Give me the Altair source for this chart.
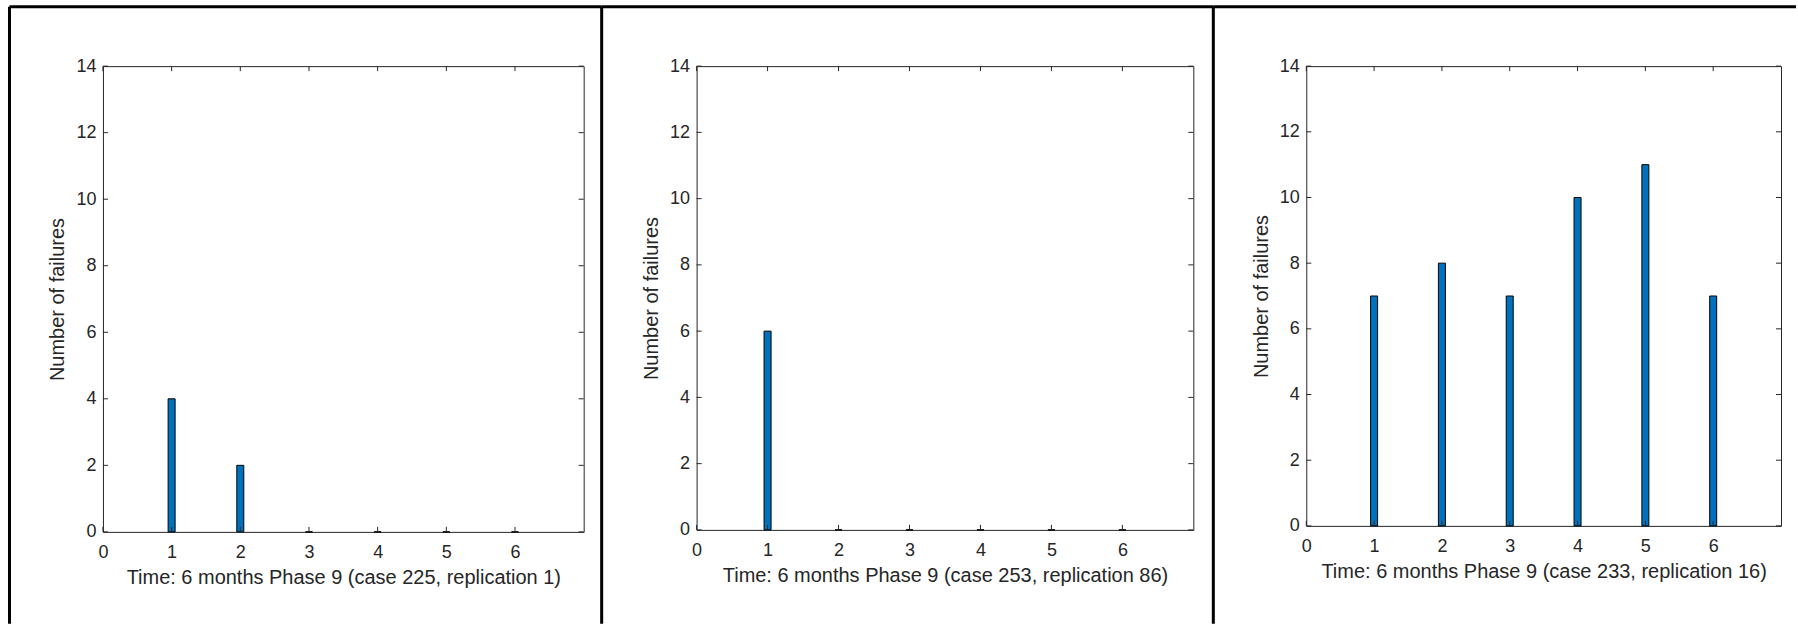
import altair as alt
import pandas as pd

# Failures per month for three simulated cases
months = [1, 2, 3, 4, 5, 6]
failures_225 = [4, 2, 0, 0, 0, 0]
failures_253 = [6, 0, 0, 0, 0, 0]
failures_233 = [7, 8, 7, 10, 11, 7]

x_titles = [
    "Time: 6 months Phase 9 (case 225, replication 1)",
    "Time: 6 months Phase 9 (case 253, replication 86)",
    "Time: 6 months Phase 9 (case 233, replication 16)",
]
y_title = "Number of failures"
x_ticks = [0, 1, 2, 3, 4, 5, 6]
y_ticks = [0, 2, 4, 6, 8, 10, 12, 14]

INK = "#262626"
BAR_BLUE = "#0072BD"
FONT = "Liberation Sans"
TICK_LEN = 5
FRAME_W = 3


def panel(counts, x_title, w, h, frame_left, frame_right):
    bars = pd.DataFrame({"month": months, "failures": counts})
    x_enc = alt.X(
        "month:Q",
        scale=alt.Scale(domain=[0, 7], nice=False, zero=False, padding=0),
        axis=alt.Axis(
            values=x_ticks, format="d", title=x_title, grid=False, domain=False,
            ticks=False, tickSize=0, labelPadding=12, labelFlush=False,
            labelOverlap=False, labelFontSize=18, labelFont=FONT,
            labelColor=INK, titleFontSize=20, titleFont=FONT,
            titleColor=INK, titleFontWeight="normal", titleX=w / 2,
            titleY=46, titleAlign="center", titleBaseline="middle",
        ),
    )
    y_axis = alt.Axis(
        values=y_ticks, format="d", title=y_title, grid=False, domain=False,
        ticks=False, tickSize=0, labelPadding=7, labelFlush=False,
        labelOverlap=False, labelFontSize=18, labelFont=FONT, labelColor=INK,
        titleFontSize=20, titleFont=FONT, titleColor=INK,
        titleFontWeight="normal", titleX=-45, titleY=h / 2, titleAngle=270,
        titleAlign="center", titleBaseline="middle",
    )
    y_scale = alt.Scale(domain=[0, 14], nice=False, padding=0)

    bar = alt.Chart(bars).mark_bar(
        size=7, color=BAR_BLUE, stroke="black", strokeWidth=1, orient="vertical"
    ).encode(
        x=x_enc,
        y=alt.Y("failures:Q", scale=y_scale, axis=y_axis, stack=None),
    )

    xt = pd.DataFrame({"month": x_ticks})
    yt = pd.DataFrame({"failures": y_ticks})
    y_enc = alt.Y("failures:Q", scale=y_scale, axis=y_axis)

    tick_bottom = alt.Chart(xt).mark_rule(color=INK, strokeWidth=1).encode(
        x=x_enc, y=alt.value(h), y2=alt.value(h - TICK_LEN)
    )
    tick_top = alt.Chart(xt).mark_rule(color=INK, strokeWidth=1).encode(
        x=x_enc, y=alt.value(0), y2=alt.value(TICK_LEN)
    )
    tick_left = alt.Chart(yt).mark_rule(color=INK, strokeWidth=1).encode(
        y=y_enc, x=alt.value(0), x2=alt.value(TICK_LEN)
    )
    tick_right = alt.Chart(yt).mark_rule(color=INK, strokeWidth=1).encode(
        y=y_enc, x=alt.value(w), x2=alt.value(w - TICK_LEN)
    )

    # window frame around each figure panel
    one = alt.Data(values=[{}])
    frame_v = alt.Chart(one).mark_rule(color="black", strokeWidth=FRAME_W).encode(
        x=alt.value(frame_left), y=alt.value(-59.5), y2=alt.value(558)
    )
    frame_h = alt.Chart(one).mark_rule(color="black", strokeWidth=FRAME_W).encode(
        x=alt.value(frame_left), x2=alt.value(frame_right), y=alt.value(-59.5)
    )

    return alt.layer(
        bar, tick_bottom, tick_top, tick_left, tick_right, frame_v, frame_h
    ).properties(width=w, height=h)


p1 = panel(failures_225, x_titles[0], 481, 466, -93.5, 499)
p2 = panel(failures_253, x_titles[1], 497, 464, -95, 517)
p3 = panel(failures_233, x_titles[2], 475, 460, -93, 490)

chart = alt.hconcat(p1, p2, p3, spacing=113, bounds="flush").properties(
    padding={"left": 7, "top": 4, "right": 0, "bottom": 0},
    background="white",
).configure_view(stroke=INK, strokeWidth=1)

chart.save("out.html", embed_options={"renderer": "svg", "actions": False})
